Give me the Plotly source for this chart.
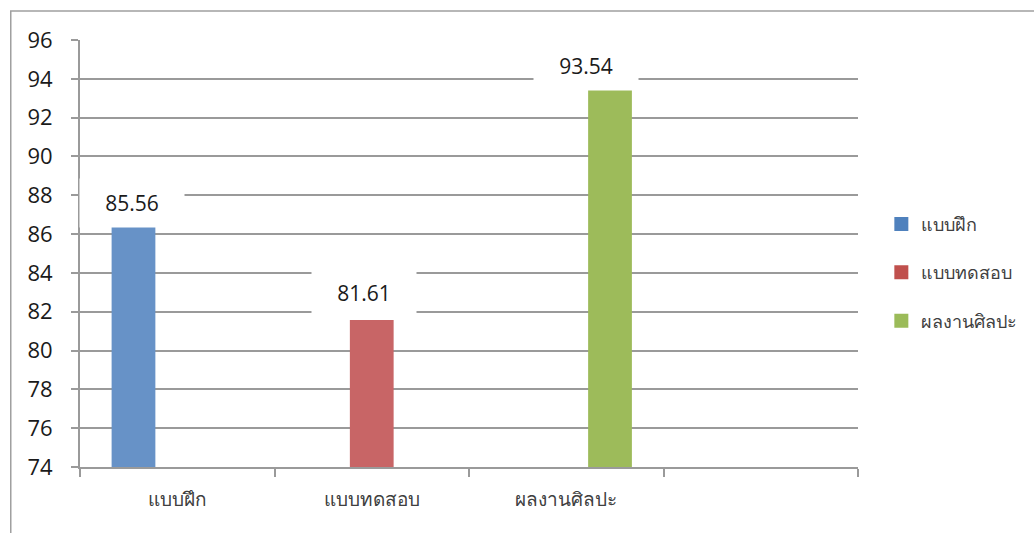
import plotly.graph_objects as go

categories = ["แบบฝึก", "แบบทดสอบ", "ผลงานศิลปะ", " "]
series_names = ["แบบฝึก", "แบบทดสอบ", "ผลงานศิลปะ"]
bar_values = [86.48, 81.58, 93.45]
label_texts = ["85.56", "81.61", "93.54"]
bar_colors = ["#6792C7", "#C86566", "#9DBB5A"]
legend_colors = ["#4F81BD", "#C0504D", "#9BBB59"]
y_ticks = [74, 76, 78, 80, 82, 84, 86, 88, 90, 92, 94, 96]

FONT = "Open Sans, Noto Sans, sans-serif"

BAR_W = 0.225
offsets = [-1.5 * BAR_W, -0.5 * BAR_W, 0.5 * BAR_W]

fig = go.Figure()
for i, name in enumerate(series_names):
    fig.add_trace(go.Bar(
        x=[categories[i]], y=[bar_values[i]], name=name,
        width=BAR_W, offset=offsets[i],
        marker=dict(color=bar_colors[i], line=dict(width=0)),
        showlegend=False, hoverinfo="skip",
    ))
# invisible trace keeping the empty 4th category
fig.add_trace(go.Scatter(x=[categories[3]], y=[None], mode="markers",
                         showlegend=False, hoverinfo="skip"))
# legend entries
for i, name in enumerate(series_names):
    fig.add_trace(go.Scatter(
        x=[categories[0]], y=[None], mode="markers", name=name,
        legendgroup=f"g{i}",
        marker=dict(symbol="square", size=14, color=legend_colors[i]),
    ))

label_shift = [(-1, 22), (-8, 27), (-24, 23)]
bar_px = [-44, 0, 44]
for i in range(3):
    dx, dy = label_shift[i]
    fig.add_annotation(
        x=categories[i], y=bar_values[i], text=label_texts[i],
        showarrow=False, xshift=dx + bar_px[i],
        yshift=dy, bgcolor="white", width=102, height=46,
        font=dict(family=FONT, size=21, color="#1a1a1a"),
    )

fig.update_layout(
    width=1034, height=533,
    margin=dict(l=80, r=172, t=40, b=66),
    paper_bgcolor="white", plot_bgcolor="white",
    barmode="overlay",
    font=dict(family=FONT),
    legend=dict(x=1.03, y=0.455, xanchor="left", yanchor="middle",
                font=dict(family=FONT, size=18, color="#404040"),
                tracegroupgap=22, itemwidth=30),
    shapes=[dict(type="rect", xref="paper", yref="paper",
                 x0=-0.089, x1=1.3, y0=-0.3, y1=1.068,
                 line=dict(color="#a0a0a0", width=1.5), layer="below")],
)
fig.update_xaxes(
    type="category", categoryorder="array", categoryarray=categories,
    range=[-0.5, 3.5], tickson="boundaries", ticks="outside", ticklen=8,
    tickcolor="#9a9a9a", tickwidth=2, showgrid=False,
    showline=True, linecolor="#9a9a9a", linewidth=2,
    tickfont=dict(family=FONT, size=19, color="#404040"),
    ticklabelstandoff=14,
)
fig.update_yaxes(
    range=[74, 96], tickvals=y_ticks, ticks="outside", ticklen=7,
    tickcolor="#9a9a9a", tickwidth=2,
    showgrid=True, gridcolor="#9a9a9a", gridwidth=2,
    showline=True, linecolor="#9a9a9a", linewidth=2,
    zeroline=False,
    tickfont=dict(family=FONT, size=22, color="#1a1a1a"),
    ticklabelstandoff=14,
)

fig.write_html("out.html")
